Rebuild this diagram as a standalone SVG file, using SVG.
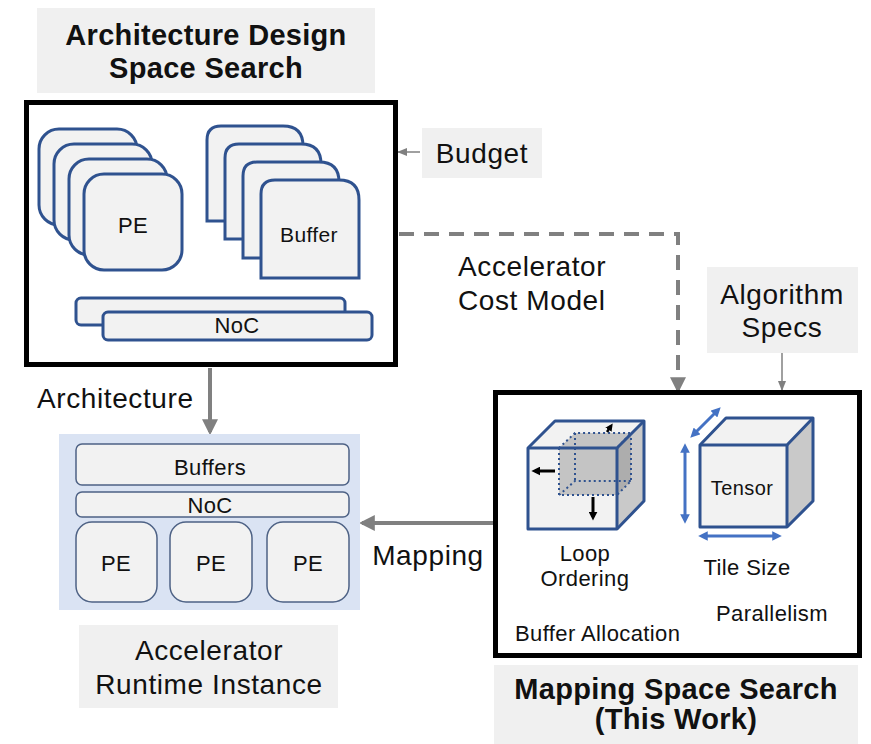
<svg xmlns="http://www.w3.org/2000/svg" width="871" height="744" viewBox="0 0 871 744">
  <style>
    text { font-family: "Liberation Sans", Arial, sans-serif; fill: #111; }
    .title { font-size: 29px; font-weight: bold; text-anchor: middle; letter-spacing: 0.3px; }
    .lbl { font-size: 28px; letter-spacing: 0.6px; }
    .sm { font-size: 22px; letter-spacing: 0.4px; }
    .mid { text-anchor: middle; }
    .tag { fill: #f0f0f0; }
    .frame { fill: #fff; stroke: #000; stroke-width: 5; }
    .blk { fill: #f2f2f2; stroke: #2f528f; stroke-width: 3; }
    .rt { fill: #f2f2f2; stroke: #4e6285; stroke-width: 1.5; }
    .conn { stroke: #808080; fill: none; }
    .edge { stroke: #2f528f; stroke-width: 3; stroke-linejoin: round; }
    .dot { stroke: #2f528f; stroke-width: 2; stroke-dasharray: 2 3; fill: none; }
    .dim { stroke: #4472c4; stroke-width: 3; fill: none; }
  </style>
  <defs>
    <marker id="ahGrey" viewBox="0 0 10 10" refX="8" refY="5" markerWidth="4" markerHeight="4" orient="auto">
      <path d="M0,0 L10,5 L0,10 z" fill="#808080"/>
    </marker>
    <marker id="ahThin" viewBox="0 0 10 10" refX="9" refY="5" markerWidth="7" markerHeight="7" orient="auto">
      <path d="M0,1 L10,5 L0,9 z" fill="#808080"/>
    </marker>
    <marker id="ahBlk" viewBox="0 0 10 10" refX="6" refY="5" markerWidth="3" markerHeight="3" orient="auto">
      <path d="M0,0 L10,5 L0,10 z" fill="#000"/>
    </marker>
    <marker id="ahBlue" viewBox="0 0 10 10" refX="6" refY="5" markerWidth="3.2" markerHeight="3.2" orient="auto-start-reverse">
      <path d="M0,0 L10,5 L0,10 z" fill="#4472c4"/>
    </marker>
  </defs>

  <!-- connectors -->
  <g id="connectors">
    <line class="conn" x1="420" y1="152" x2="398" y2="152" stroke-width="1.5" marker-end="url(#ahThin)"/>
    <polyline class="conn" points="399,234 678,234 678,390" stroke-width="4" stroke-dasharray="15 10" marker-end="url(#ahGrey)"/>
    <line class="conn" x1="782" y1="353" x2="782" y2="390" stroke-width="1.5" marker-end="url(#ahThin)"/>
    <line class="conn" x1="210" y1="368" x2="210" y2="432" stroke-width="4" marker-end="url(#ahGrey)"/>
    <line class="conn" x1="493" y1="523" x2="362" y2="523" stroke-width="4" marker-end="url(#ahGrey)"/>
  </g>

  <!-- architecture design space search -->
  <g id="arch-title">
    <rect class="tag" x="37" y="8" width="338" height="85"/>
    <text class="title" x="206" y="45">Architecture Design</text>
    <text class="title" x="206" y="78">Space Search</text>
  </g>

  <g id="arch-space">
    <rect class="frame" x="26.5" y="102.5" width="369" height="262"/>
    <!-- PE stack -->
    <rect class="blk" x="39" y="129" width="98" height="96" rx="20"/>
    <rect class="blk" x="54" y="144" width="98" height="96" rx="20"/>
    <rect class="blk" x="69" y="159" width="98" height="96" rx="20"/>
    <rect class="blk" x="84" y="174" width="98" height="96" rx="20"/>
    <text x="133" y="233" class="sm mid">PE</text>
    <!-- buffer stack -->
    <path class="blk" d="M207,221 V140 Q207,126 221,126 H283 Q303,126 303,146 V221 Z"/>
    <path class="blk" d="M225,239 V158 Q225,144 239,144 H301 Q321,144 321,164 V239 Z"/>
    <path class="blk" d="M243,258 V176 Q243,162 257,162 H319 Q339,162 339,182 V258 Z"/>
    <path class="blk" d="M261,278 V194 Q261,180 275,180 H339 Q359,180 359,200 V278 Z"/>
    <text x="309" y="242" class="mid" font-size="21" letter-spacing="0.4">Buffer</text>
    <!-- NoC -->
    <rect class="blk" x="76" y="298" width="269" height="27" rx="5"/>
    <rect class="blk" x="103" y="312" width="269" height="28" rx="5"/>
    <text x="237" y="333" class="sm mid">NoC</text>
  </g>

  <g id="budget">
    <rect class="tag" x="422" y="128" width="120" height="50"/>
    <text class="lbl mid" x="482" y="163">Budget</text>
  </g>

  <g id="cost-model">
    <text class="lbl" x="458" y="276">Accelerator</text>
    <text class="lbl" x="458" y="310">Cost Model</text>
  </g>

  <g id="algo-specs">
    <rect class="tag" x="707" y="267" width="151" height="86"/>
    <text class="lbl mid" x="782" y="304">Algorithm</text>
    <text class="lbl mid" x="782" y="337">Specs</text>
  </g>

  <g id="arch-label">
    <text class="lbl" x="37" y="408">Architecture</text>
  </g>

  <g id="mapping-label">
    <text class="lbl mid" x="428" y="565">Mapping</text>
  </g>

  <!-- accelerator runtime instance -->
  <g id="runtime">
    <rect x="59" y="434" width="301" height="176" fill="#dae3f3"/>
    <rect class="rt" x="76" y="444" width="273" height="41" rx="6"/>
    <text x="210" y="475" class="sm mid">Buffers</text>
    <rect class="rt" x="76" y="492" width="273" height="25" rx="6"/>
    <text x="210" y="513" class="sm mid">NoC</text>
    <rect class="rt" x="76" y="522" width="81" height="80" rx="16"/>
    <rect class="rt" x="170" y="522" width="82" height="80" rx="16"/>
    <rect class="rt" x="267" y="522" width="82" height="80" rx="16"/>
    <text x="116" y="571" class="sm mid">PE</text>
    <text x="211" y="571" class="sm mid">PE</text>
    <text x="308" y="571" class="sm mid">PE</text>
  </g>

  <g id="runtime-title">
    <rect class="tag" x="79" y="625" width="259" height="83"/>
    <text class="lbl mid" x="209" y="660">Accelerator</text>
    <text class="lbl mid" x="209" y="694">Runtime Instance</text>
  </g>

  <!-- mapping space search -->
  <g id="mapping-space">
    <rect class="frame" x="495.5" y="392.5" width="364" height="263"/>

    <!-- loop ordering cube -->
    <polygon points="528,448 555,421 644,421 617,448" fill="#f2f2f2"/>
    <polygon points="617,448 644,421 644,501 617,529" fill="#c9c9c9"/>
    <rect x="528" y="448" width="89" height="81" fill="#f2f2f2"/>
    <!-- inner tile -->
    <polygon points="559,448 575,433 631,433 631,481 617,495 559,495" fill="#8c8c8c" fill-opacity="0.45"/>
    <polyline class="dot" points="559,495 559,448 617,448 617,495 559,495"/>
    <polyline class="dot" points="559,448 575,433 631,433 617,448"/>
    <polyline class="dot" points="631,433 631,481 617,495"/>
    <polyline class="dot" points="559,495 575,481 631,481"/>
    <line class="dot" x1="575" y1="433" x2="575" y2="481"/>
    <polygon class="edge" points="528,448 555,421 644,421 644,501 617,529 528,529" fill="none"/>
    <polyline class="edge" points="528,448 617,448 644,421" fill="none"/>
    <line class="edge" x1="617" y1="448" x2="617" y2="529"/>
    <!-- loop directions -->
    <line x1="555" y1="471" x2="535" y2="471" stroke="#000" stroke-width="3" marker-end="url(#ahBlk)"/>
    <line x1="593" y1="497" x2="593" y2="517" stroke="#000" stroke-width="3" marker-end="url(#ahBlk)"/>
    <line x1="607" y1="432" x2="611" y2="426" stroke="#000" stroke-width="2.5" marker-end="url(#ahBlk)"/>
    <text x="585" y="561" class="sm mid">Loop</text>
    <text x="585" y="586" class="sm mid">Ordering</text>

    <!-- tensor tile cube -->
    <polygon points="700,445 726,418 813,418 787,445" fill="#f2f2f2"/>
    <polygon points="787,445 813,418 813,501 787,527" fill="#c9c9c9"/>
    <rect x="700" y="445" width="87" height="82" fill="#f2f2f2"/>
    <polygon class="edge" points="700,445 726,418 813,418 813,501 787,527 700,527" fill="none"/>
    <polyline class="edge" points="700,445 787,445 813,418" fill="none"/>
    <line class="edge" x1="787" y1="445" x2="787" y2="527"/>
    <text x="742" y="495" class="mid" font-size="20" letter-spacing="0.4">Tensor</text>
    <line class="dim" x1="685" y1="447" x2="685" y2="520" marker-start="url(#ahBlue)" marker-end="url(#ahBlue)"/>
    <line class="dim" x1="702" y1="536" x2="778" y2="536" marker-start="url(#ahBlue)" marker-end="url(#ahBlue)"/>
    <line class="dim" x1="693" y1="435" x2="718" y2="410" marker-start="url(#ahBlue)" marker-end="url(#ahBlue)"/>
    <text x="747" y="575" class="sm mid">Tile Size</text>
    <text x="772" y="621" class="sm mid">Parallelism</text>
    <text x="515" y="641" class="sm">Buffer Allocation</text>
  </g>

  <g id="mapping-title">
    <rect class="tag" x="494" y="665" width="364" height="79"/>
    <text class="title" x="676" y="699">Mapping Space Search</text>
    <text class="title" x="676" y="729">(This Work)</text>
  </g>
</svg>
